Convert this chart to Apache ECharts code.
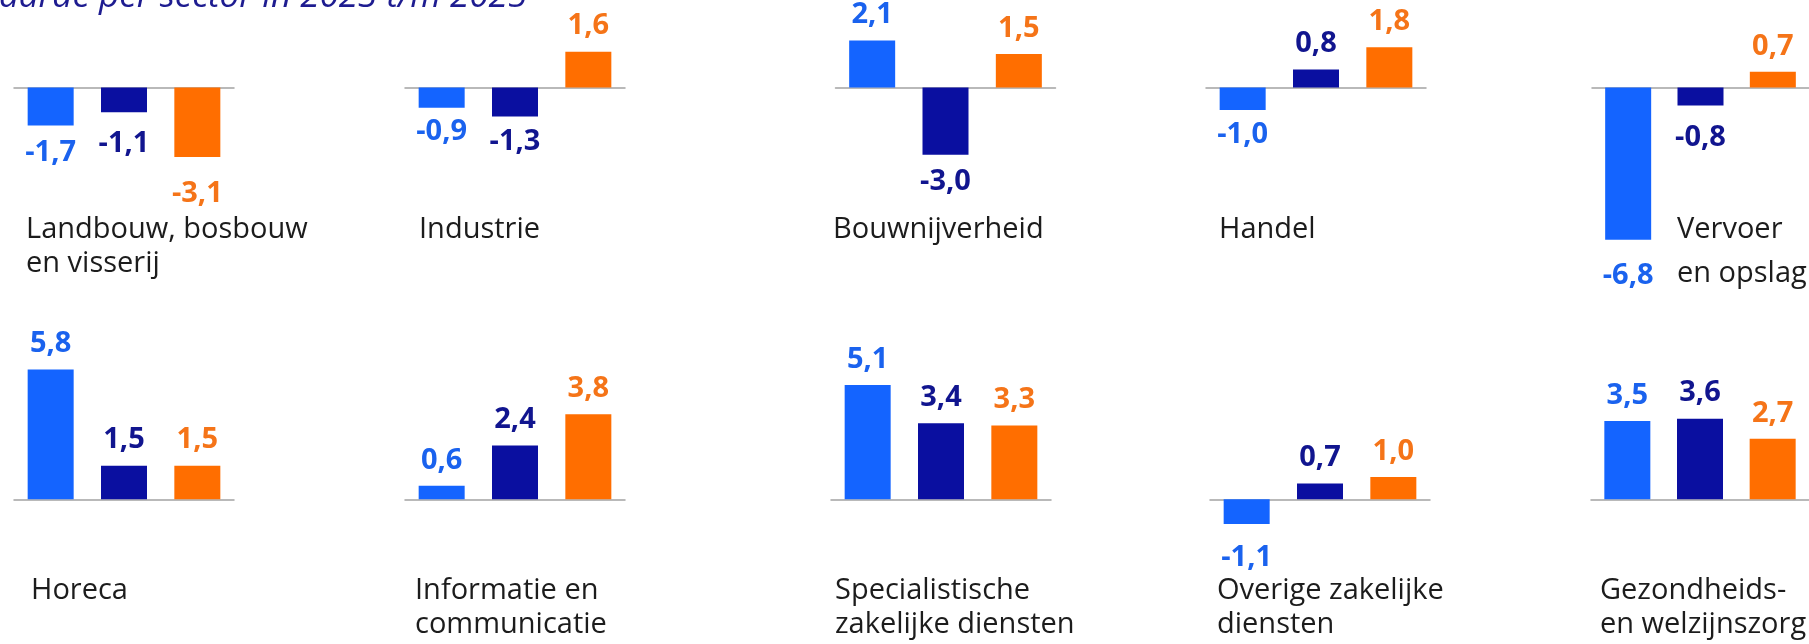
<!DOCTYPE html>
<html><head><meta charset="utf-8">
<script src="https://cdn.jsdelivr.net/npm/echarts@6/dist/echarts.min.js"></script>
<style>html,body{margin:0;padding:0;background:#fff}#c{width:1809px;height:644px}</style>
</head><body><div id="c"></div>
<script>
// ---- data ----
const sectors = ['Landbouw, bosbouw\nen visserij', 'Industrie', 'Bouwnijverheid', 'Handel', 'Vervoer\nen opslag',
  'Horeca', 'Informatie en\ncommunicatie', 'Specialistische\nzakelijke diensten', 'Overige zakelijke\ndiensten', 'Gezondheids-\nen welzijnszorg'];
const years = ['2023', '2024', '2025'];
const v2023 = [-1.7, -0.9, 2.1, -1.0, -6.8, 5.8, 0.6, 5.1, -1.1, 3.5];
const v2024 = [-1.1, -1.3, -3.0, 0.8, -0.8, 1.5, 2.4, 3.4, 0.7, 3.6];
const v2025 = [-3.1, 1.6, 1.5, 1.8, 0.7, 1.5, 3.8, 3.3, 1.0, 2.7];
const titleText = 'Toegevoegde waarde per sector in 2023 t/m 2025';

// ---- layout / style ----
const barColors = ['#1464ff', '#0a0fa0', '#ff6e00'];
const labelColors = ['#1a62ee', '#11158f', '#f57418'];
const PX = 22.4;
const rows = [
  { zero: 87.5, min: -7, max: 3, centers: [124, 515, 945.5, 1316, 1702], labelX: [26, 419, 833, 1219, 1677], labelTop: 213 },
  { zero: 499.3, min: -2, max: 6, centers: [124, 515, 941, 1320, 1701], labelX: [31, 415, 835, 1217, 1600], labelTop: 574 }
];
const CAT_LH = 34;
const catLineHeight = { 4: 44 };
// label distance below negative bars (sector-yearIndex)
const negDist = { '0-0': 13, '0-1': 17, '0-2': 22, '1-0': 10, '1-1': 11, '2-1': 13, '3-0': 10, '4-0': 21, '4-1': 18, '8-0': 19 };
const FONT = '"Open Sans", "Noto Sans", sans-serif';

const grid = [], xAxis = [], yAxis = [], series = [], title = [];
sectors.forEach((name, i) => {
  const r = rows[Math.floor(i / 5)], c = i % 5;
  grid.push({ left: r.centers[c] - 110, width: 220, top: r.zero - r.max * PX, height: (r.max - r.min) * PX });
  xAxis.push({ gridIndex: i, type: 'category', data: years,
    axisLine: { show: true, onZero: true, lineStyle: { color: '#a3a3a3', width: 1.5 } },
    axisTick: { show: false }, axisLabel: { show: false }, splitLine: { show: false } });
  yAxis.push({ gridIndex: i, type: 'value', min: r.min, max: r.max,
    axisLine: { show: false }, axisTick: { show: false }, axisLabel: { show: false }, splitLine: { show: false } });
  const vals = [v2023[i], v2024[i], v2025[i]];
  series.push({
    type: 'bar', name: name, xAxisIndex: i, yAxisIndex: i, barWidth: 46, silent: true,
    label: { show: true, distance: 11, fontSize: 29, fontWeight: 'bold', fontFamily: FONT,
      formatter: p => p.value.toFixed(1).replace('.', ',') },
    data: vals.map((v, j) => ({ value: v, itemStyle: { color: barColors[j] },
      label: v >= 0 ? { position: 'top', color: labelColors[j] }
                    : { position: 'bottom', color: labelColors[j], distance: negDist[i + '-' + j] || 12 } }))
  });
  const lh = catLineHeight[i] || CAT_LH;
  title.push({ text: name, left: r.labelX[c], top: r.labelTop - (lh - CAT_LH) / 2, padding: 0,
    textStyle: { fontSize: 29, fontWeight: 'normal', fontFamily: FONT, color: '#1c1c1c', lineHeight: lh } });
});

const chart = echarts.init(document.getElementById('c'), null, { renderer: 'canvas' });
chart.setOption({
  animation: false,
  backgroundColor: '#ffffff',
  title: title,
  grid: grid, xAxis: xAxis, yAxis: yAxis, series: series,
  graphic: [{ type: 'text', x: 527, y: -2.6, silent: true,
    style: { text: titleText, fontSize: 35, fontStyle: 'italic', fontFamily: FONT, fill: '#1e1c90', align: 'right', verticalAlign: 'middle' } }]
});
</script></body></html>
